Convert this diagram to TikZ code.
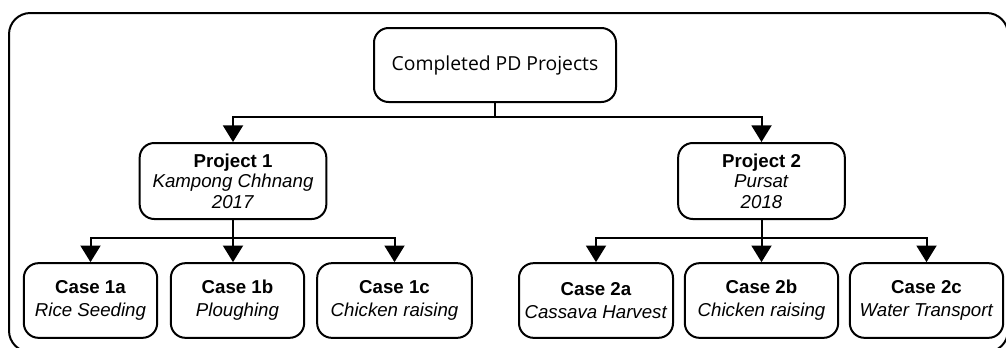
\documentclass[tikz,border=0pt]{standalone}
\usepackage{fontspec}
\setmainfont{Liberation Sans}
\newfontfamily\opensans{Open Sans}
\usetikzlibrary{arrows.meta}
\tikzstyle{box}=[draw, line width=1.5pt, rounded corners=11pt, align=center, inner sep=0pt]
\tikzstyle{root box}=[box, minimum width=181.5pt, minimum height=55.5pt, font=\opensans\fontsize{14.5}{17}\selectfont]
\tikzstyle{project box}=[box, minimum height=57pt, font=\fontsize{14}{15.5}\selectfont]
\tikzstyle{case box}=[box, minimum height=56pt, font=\fontsize{14}{17.5}\selectfont]
\tikzstyle{link}=[line width=1.5pt]
\tikzstyle{arrow}=[link, -{Triangle[width=15pt,length=12.5pt]}]

\begin{document}
\begin{tikzpicture}[x=0.75pt,y=-0.75pt]
    \useasboundingbox (0,0) rectangle (1006,347);

    % Frame
    \draw[line width=1.5pt, rounded corners=16pt] (9,13) rectangle (1008,352);

    % Root
    \draw (495,65) node[root box] (root) {Completed PD Projects};

    % Projects
    \draw (233,181) node[project box, minimum width=140pt] (p1)
    {\textbf{Project 1}\\\textit{Kampong Chhnang}\\\textit{2017}};
    \draw (761.5,181) node[project box, minimum width=125pt] (p2)
    {\textbf{Project 2}\\\textit{Pursat}\\\textit{2018}};

    % Cases
    \draw (90.5,300.5) node[case box, minimum width=100pt] (c1a)
    {\textbf{Case 1a}\\\textit{Rice Seeding}};
    \draw (237.5,300.5) node[case box, minimum width=100pt] (c1b)
    {\textbf{Case 1b}\\\textit{Ploughing}};
    \draw (394.5,300.5) node[case box, minimum width=116pt] (c1c)
    {\textbf{Case 1c}\\\textit{Chicken raising}};
    \draw (596,300.5) node[case box, minimum width=115.5pt] (c2a)
    {\textbf{Case 2a}\\\textit{Cassava Harvest}};
    \draw (761.5,300.5) node[case box, minimum width=115pt] (c2b)
    {\textbf{Case 2b}\\\textit{Chicken raising}};
    \draw (926.5,300.5) node[case box, minimum width=115pt] (c2c)
    {\textbf{Case 2c}\\\textit{Water Transport}};

    % Links
    \draw[link] (root.south) -- (root.south |- 0,117) coordinate (j0);
    \draw[arrow] (j0) -| (p1.north);
    \draw[arrow] (j0) -| (p2.north);

    \draw[link] (p1.south) -- (p1.south |- 0,238) coordinate (j1);
    \draw[arrow] (j1) -| (c1a.north);
    \draw[arrow] (j1) -- (j1 |- c1b.north);
    \draw[arrow] (j1) -| (c1c.north);

    \draw[link] (p2.south) -- (p2.south |- 0,238) coordinate (j2);
    \draw[arrow] (j2) -| (c2a.north);
    \draw[arrow] (j2) -- (j2 |- c2b.north);
    \draw[arrow] (j2) -| (c2c.north);

\end{tikzpicture}
\end{document}
